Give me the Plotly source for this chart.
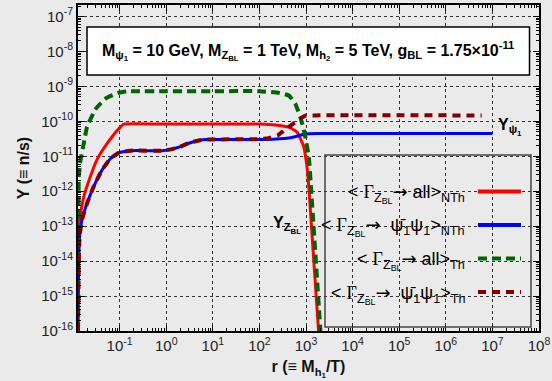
import plotly.graph_objects as go

# ---------------- data ----------------
# <Gamma_ZBL -> all>_NTh  (red, solid)
red_x = [1.30e-2, 1.32e-2, 1.45e-2, 1.70e-2, 2.19e-2, 3.24e-2, 5.37e-2, 9.77e-2, 1.23e-1, 2.51e-1,
         1e0, 1e1, 1e2, 2.19e2, 4.27e2, 6.46e2, 8.91e2, 1.05e3, 1.15e3, 1.45e3, 1.86e3]
red_y = [3.2e-15, 9.5e-14, 2.3e-13, 6.9e-13, 2.0e-12, 7.8e-12, 2.3e-11, 6.3e-11, 8.3e-11, 8.5e-11,
         8.4e-11, 8.4e-11, 8.4e-11, 7.9e-11, 6.8e-11, 4.9e-11, 1.9e-11, 5.0e-12, 1.3e-12, 1.3e-14, 1e-16]

# <Gamma_ZBL -> psibar psi>_NTh  (blue, solid)
blue_x = [1.28e-2, 1.32e-2, 1.38e-2, 1.55e-2, 2.00e-2, 2.75e-2, 4.17e-2, 6.31e-2, 9.55e-2, 1.70e-1,
          8.32e-1, 1.26e0, 1.95e0, 2.82e0, 3.72e0, 5.25e0, 7.24e0, 1e2, 2.00e2, 5.01e2, 9.77e2, 2.00e3, 1e7]
blue_y = [1e-16, 6.3e-15, 4.7e-14, 1.48e-13, 4.5e-13, 1.32e-12, 4.0e-12, 8.5e-12, 1.26e-11, 1.45e-11,
          1.45e-11, 1.58e-11, 1.86e-11, 2.29e-11, 2.57e-11, 2.88e-11, 3.02e-11, 3.02e-11, 3.09e-11, 3.47e-11, 4.37e-11, 4.47e-11, 4.47e-11]

# <Gamma_ZBL -> all>_Th  (green, dashed)
green_x = [1.28e-2, 1.31e-2, 1.33e-2, 1.45e-2, 1.70e-2, 2.00e-2, 3.16e-2, 5.13e-2, 9.55e-2, 1.45e-1,
           2.29e-1, 1e0, 1e1, 1e2, 2.69e2, 4.27e2, 5.89e2, 7.59e2, 9.33e2, 1.15e3, 1.29e3, 2.04e3]
green_y = [1e-16, 6.3e-14, 2.6e-12, 7.8e-12, 2.3e-11, 7.0e-11, 2.4e-10, 4.6e-10, 6.6e-10, 7.2e-10,
           7.3e-10, 7.3e-10, 7.3e-10, 7.3e-10, 6.5e-10, 5.5e-10, 3.2e-10, 1.3e-10, 4.5e-11, 9.5e-12, 1.1e-12, 1e-16]

# <Gamma_ZBL -> psibar psi>_Th  (dark red, dashed)
dred_x = [1.28e-2, 1.32e-2, 1.38e-2, 1.55e-2, 2.00e-2, 2.75e-2, 4.17e-2, 6.31e-2, 9.55e-2, 1.70e-1,
          8.32e-1, 1.26e0, 1.95e0, 2.82e0, 3.72e0, 5.25e0, 7.24e0, 1.00e2, 1.58e2, 2.51e2, 3.09e2, 4.27e2,
          6.31e2, 7.94e2, 9.77e2, 1.58e3, 5.89e6]
dred_y = [1e-16, 6.3e-15, 4.7e-14, 1.48e-13, 4.5e-13, 1.32e-12, 4.0e-12, 8.5e-12, 1.26e-11, 1.45e-11,
          1.45e-11, 1.58e-11, 1.86e-11, 2.29e-11, 2.57e-11, 2.88e-11, 3.02e-11, 3.09e-11, 3.31e-11, 3.98e-11, 5.0e-11, 6.9e-11,
          1.0e-10, 1.26e-10, 1.45e-10, 1.48e-10, 1.48e-10]

x_tick_vals = [1e-1, 1e0, 1e1, 1e2, 1e3, 1e4, 1e5, 1e6, 1e7, 1e8]
x_tick_text = ["10<sup>-1</sup>", "10<sup>0</sup>", "10<sup>1</sup>", "10<sup>2</sup>", "10<sup>3</sup>",
               "10<sup>4</sup>", "10<sup>5</sup>", "10<sup>6</sup>", "10<sup>7</sup>", "10<sup>8</sup>"]
y_tick_vals = [1e-16, 1e-15, 1e-14, 1e-13, 1e-12, 1e-11, 1e-10, 1e-9, 1e-8, 1e-7]
y_tick_text = ["10<sup>-16</sup>", "10<sup>-15</sup>", "10<sup>-14</sup>", "10<sup>-13</sup>", "10<sup>-12</sup>",
               "10<sup>-11</sup>", "10<sup>-10</sup>", "10<sup>-9</sup>", "10<sup>-8</sup>", "10<sup>-7</sup>"]

G = '<span style="font-family:Liberation Serif">Γ</span>'
ARR = '<span style="font-family:DejaVu Sans">→</span>'
legend_labels = [
    f"&lt; {G}<sub>Z<sub>BL</sub></sub>{ARR} all&gt;<sub>NTh</sub>",
    f"&lt; {G}<sub>Z<sub>BL</sub></sub>{ARR}  ψ̄<sub>1</sub>ψ<sub>1</sub>&gt;<sub>NTh</sub>",
    f"&lt; {G}<sub>Z<sub>BL</sub></sub>{ARR} all&gt;<sub>Th</sub>",
    f"&lt; {G}<sub>Z<sub>BL</sub></sub>{ARR}  ψ̄<sub>1</sub>ψ<sub>1</sub>&gt;<sub>Th</sub>",
]
colors = ["#ff0000", "#0000ff", "#006400", "#800000"]
dashes = ["solid", "solid", "9px,5px", "8px,6px"]

title_text = ("<b>M<sub>ψ<sub>1</sub></sub> = 10 GeV, M<sub>Z<sub>BL</sub></sub> = 1 TeV, "
              "M<sub>h<sub>2</sub></sub> = 5 TeV, g<sub>BL</sub> = 1.75×10<sup>-11</sup></b>")

# ---------------- figure ----------------
W, H = 552, 381
L, R, T, B = 78, 13, 5, 50
pw, ph = W - L - R, H - T - B

def PX(px):
    return (px - L) / pw

def PY(py):
    return 1 - (py - T) / ph

fig = go.Figure()
series = [(red_x, red_y, 3), (blue_x, blue_y, 3), (green_x, green_y, 4), (dred_x, dred_y, 4)]
for (xs, ys, w), c, d in zip(series, colors, dashes):
    fig.add_trace(go.Scatter(x=xs, y=ys, mode="lines", line=dict(color=c, width=w, dash=d, shape="spline", smoothing=0.4),
                             showlegend=False, hoverinfo="skip", cliponaxis=True))

axis_common = dict(
    type="log", showline=True, linecolor="black", linewidth=2, mirror="allticks",
    ticks="inside", ticklen=6, tickcolor="black", tickwidth=1, automargin=False,
    showgrid=True, gridcolor="#333333", griddash="dot", gridwidth=1,
    zeroline=False, tickfont=dict(family="Liberation Sans, Arial", size=15, color="#222"),
    minor=dict(ticks="inside", ticklen=3, tickcolor="black", dtick="D1", showgrid=False),
)

fig.update_xaxes(range=[-1.893, 8], tickmode="array", tickvals=x_tick_vals, ticktext=x_tick_text,
                 title=dict(text="<b>r (≡ M<sub>h<sub>1</sub></sub>/T)</b>", font=dict(family="Liberation Sans, Arial", size=16, color="#111"), standoff=8),
                 **axis_common)
fig.update_yaxes(range=[-16, -6.67], tickmode="array", tickvals=y_tick_vals, ticktext=y_tick_text,
                 title=dict(text="<b>Y (≡ n/s)</b>", font=dict(family="Liberation Sans, Arial", size=16, color="#111"), standoff=8),
                 **axis_common)

shapes = []
annotations = []
# parameter box
shapes.append(dict(type="rect", xref="paper", yref="paper", x0=PX(87), x1=PX(529.5), y0=PY(75), y1=PY(27),
                   fillcolor="white", line=dict(color="black", width=1.5), layer="above"))
annotations.append(dict(xref="paper", yref="paper", x=PX(308), y=PY(51), text=title_text, showarrow=False,
                        xanchor="center", yanchor="middle", font=dict(family="Liberation Sans, Arial", size=16, color="black")))
# legend box
shapes.append(dict(type="rect", xref="paper", yref="paper", x0=PX(325), x1=PX(531), y0=PY(327), y1=PY(155),
                   line=dict(color="#444", width=1.5), layer="above"))
rows = [191.5, 225, 258.5, 292]
for lab, c, d, ry in zip(legend_labels, colors, dashes, rows):
    annotations.append(dict(xref="paper", yref="paper", x=PX(467), y=PY(ry + 2), text=lab, showarrow=False,
                            xanchor="right", yanchor="middle", font=dict(family="Liberation Sans, Arial", size=18, color="black")))
    shapes.append(dict(type="line", xref="paper", yref="paper", x0=PX(478), x1=PX(521), y0=PY(ry), y1=PY(ry),
                       line=dict(color=c, width=4, dash=d), layer="above"))

# curve labels
annotations.append(dict(xref="paper", yref="paper", x=PX(496), y=PY(127), text="<b>Y<sub>ψ<sub>1</sub></sub></b>", showarrow=False,
                        xanchor="left", yanchor="middle", font=dict(family="Liberation Sans, Arial", size=16, color="black")))
annotations.append(dict(xref="paper", yref="paper", x=PX(271), y=PY(225), text="<b>Y<sub>Z<sub>BL</sub></sub></b>", showarrow=False,
                        xanchor="left", yanchor="middle", font=dict(family="Liberation Sans, Arial", size=16, color="black")))

fig.update_layout(width=W, height=H, autosize=False, margin=dict(l=L, r=R, t=T, b=B, autoexpand=False),
                  paper_bgcolor="#eaeaea", plot_bgcolor="#eaeaea", shapes=shapes, annotations=annotations,
                  font=dict(family="Liberation Sans, Arial"))

fig.write_html("out.html", config={"displayModeBar": False},
               post_script="document.body.style.margin='0px';document.body.style.background='#eaeaea';")
